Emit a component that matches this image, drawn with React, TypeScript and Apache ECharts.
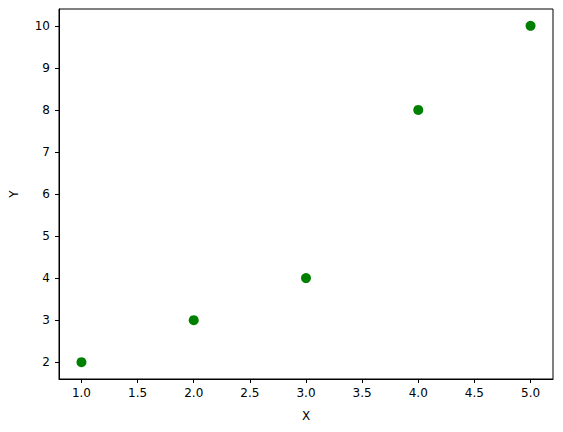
import React, { useEffect, useRef } from "react";
import * as echarts from "echarts";

const xValues = [1, 2, 3, 4, 5];
const yValues = [2, 3, 4, 8, 10];
const xTicks = [1.0, 1.5, 2.0, 2.5, 3.0, 3.5, 4.0, 4.5, 5.0];
const yTicks = [2, 3, 4, 5, 6, 7, 8, 9, 10];

export default function App() {
  const ref = useRef<HTMLDivElement>(null);
  useEffect(() => {
    document.body.style.margin = "0";
    const chart = echarts.init(ref.current!, null, { renderer: "svg" });
    const font = "'DejaVu Sans', sans-serif";
    chart.setOption({
      animation: false,
      backgroundColor: "#ffffff",
      grid: {
        left: 57,
        top: 9,
        right: 10,
        bottom: 53,
        show: true,
        borderColor: "#000000",
        borderWidth: 1,
        backgroundColor: "transparent",
      },
      xAxis: {
        type: "value",
        min: 0.8,
        max: 5.2,
        name: "X",
        nameLocation: "middle",
        nameGap: 31,
        nameTextStyle: { color: "#000", fontFamily: font, fontSize: 12 },
        axisLine: { show: true, lineStyle: { color: "#000", width: 1 } },
        axisTick: {
          show: true,
          customValues: xTicks,
          length: 4,
          lineStyle: { color: "#000" },
        },
        axisLabel: {
          customValues: xTicks,
          formatter: (v: number) => v.toFixed(1),
          color: "#000",
          fontFamily: font,
          fontSize: 12,
          margin: 8,
        },
        splitLine: { show: false },
      },
      yAxis: {
        type: "value",
        min: 1.6,
        max: 10.4,
        name: "Y",
        nameLocation: "middle",
        nameGap: 39,
        nameRotate: 90,
        nameTextStyle: { color: "#000", fontFamily: font, fontSize: 12 },
        axisLine: { show: true, lineStyle: { color: "#000", width: 1 } },
        axisTick: {
          show: true,
          customValues: yTicks,
          length: 4,
          lineStyle: { color: "#000" },
        },
        axisLabel: {
          customValues: yTicks,
          formatter: (v: number) => String(Math.round(v)),
          color: "#000",
          fontFamily: font,
          fontSize: 12,
          margin: 9,
        },
        splitLine: { show: false },
      },
      series: [
        {
          type: "scatter",
          data: xValues.map((x, i) => [x, yValues[i]]),
          symbol: "circle",
          symbolSize: 10,
          itemStyle: { color: "#008000", opacity: 1 },
        },
      ],
    });
    return () => chart.dispose();
  }, []);
  return <div ref={ref} style={{ width: 563, height: 432 }} />;
}
